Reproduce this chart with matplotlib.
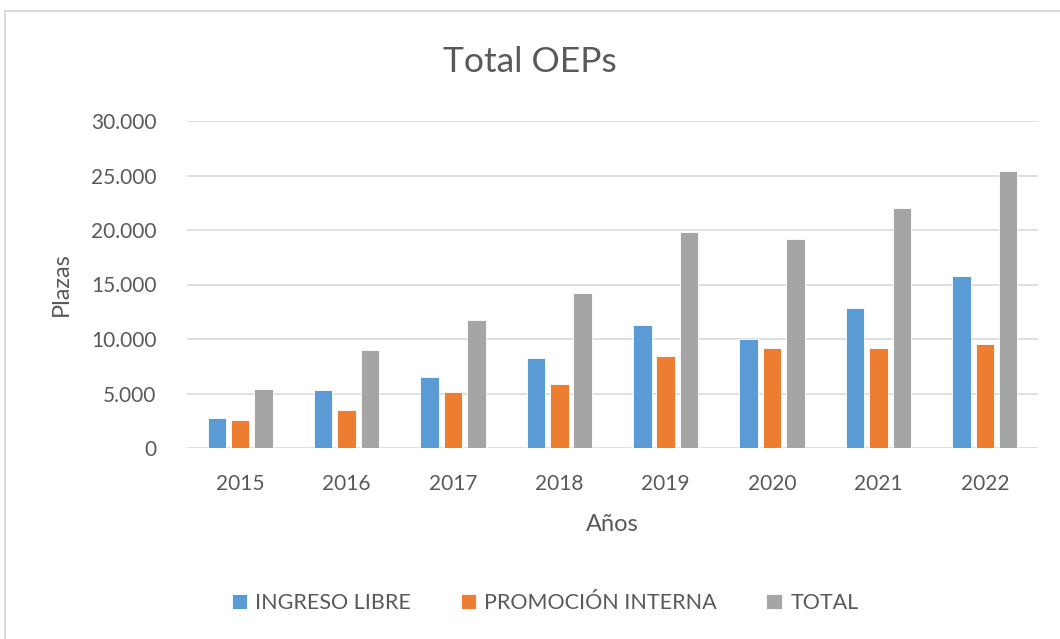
import numpy as np
import matplotlib.pyplot as plt
from matplotlib.patches import Rectangle
from matplotlib.ticker import FuncFormatter

# datos
anios = ['2015', '2016', '2017', '2018', '2019', '2020', '2021', '2022']
ingreso_libre = [2750, 5360, 6490, 8290, 11280, 10000, 12840, 15820]
promocion_interna = [2600, 3520, 5170, 5840, 8440, 9210, 9210, 9580]
total = [5450, 8960, 11780, 14260, 19820, 19210, 22020, 25390]

series = ['INGRESO LIBRE', 'PROMOCIÓN INTERNA', 'TOTAL']
colores = ['#5B9BD5', '#ED7D31', '#A5A5A5']
texto = '#595959'

plt.rcParams['font.family'] = ['Lato', 'DejaVu Sans']

fig = plt.figure(figsize=(10.6, 6.39), dpi=100)
ax = fig.add_axes([187 / 1060, 1 - 448 / 639, 851 / 1060, 327 / 639])

# marco del grafico
fig.patches.append(Rectangle((5 / 1060, -0.1), 1.2, 1 - 11 / 639 + 0.1,
                             transform=fig.transFigure, fill=False,
                             edgecolor='#D9D9D9', linewidth=1.5))

x = np.arange(len(anios))
ancho = 0.174
paso = 0.22
for i, (vals, nombre) in enumerate(zip([ingreso_libre, promocion_interna, total], series)):
    ax.bar(x + (i - 1) * paso, vals, ancho, color=colores[i], label=nombre,
           edgecolor='white', linewidth=0.6, zorder=3)

ax.set_xlim(-0.5, len(anios) - 0.5)
ax.set_ylim(0, 30000)
ax.set_yticks(range(0, 30001, 5000))
ax.yaxis.set_major_formatter(FuncFormatter(lambda v, p: f'{int(v):,}'.replace(',', '.')))
ax.set_xticks(x)
ax.set_xticklabels(anios)
ax.grid(axis='y', color='#D9D9D9', linewidth=1.2, zorder=0)
for s in ax.spines.values():
    s.set_visible(False)
ax.tick_params(length=0, labelsize=15, colors=texto)
ax.tick_params(axis='x', pad=19)
ax.tick_params(axis='y', pad=22)

ax.set_xlabel('Años', fontsize=17, color=texto, labelpad=14)
ax.set_ylabel('Plazas', fontsize=17, color=texto, labelpad=14)
fig.text(0.5, 1 - 62 / 639, 'Total OEPs', ha='center', va='center',
         fontsize=25.5, color=texto)

fig.legend(loc='center', bbox_to_anchor=(545 / 1060, 1 - 603 / 639), ncol=3,
           frameon=False, fontsize=15.5, labelcolor=texto, handlelength=0.7,
           handleheight=0.7, handletextpad=0.4, columnspacing=2.3)

fig.savefig('out.png', dpi=100, facecolor='white')
